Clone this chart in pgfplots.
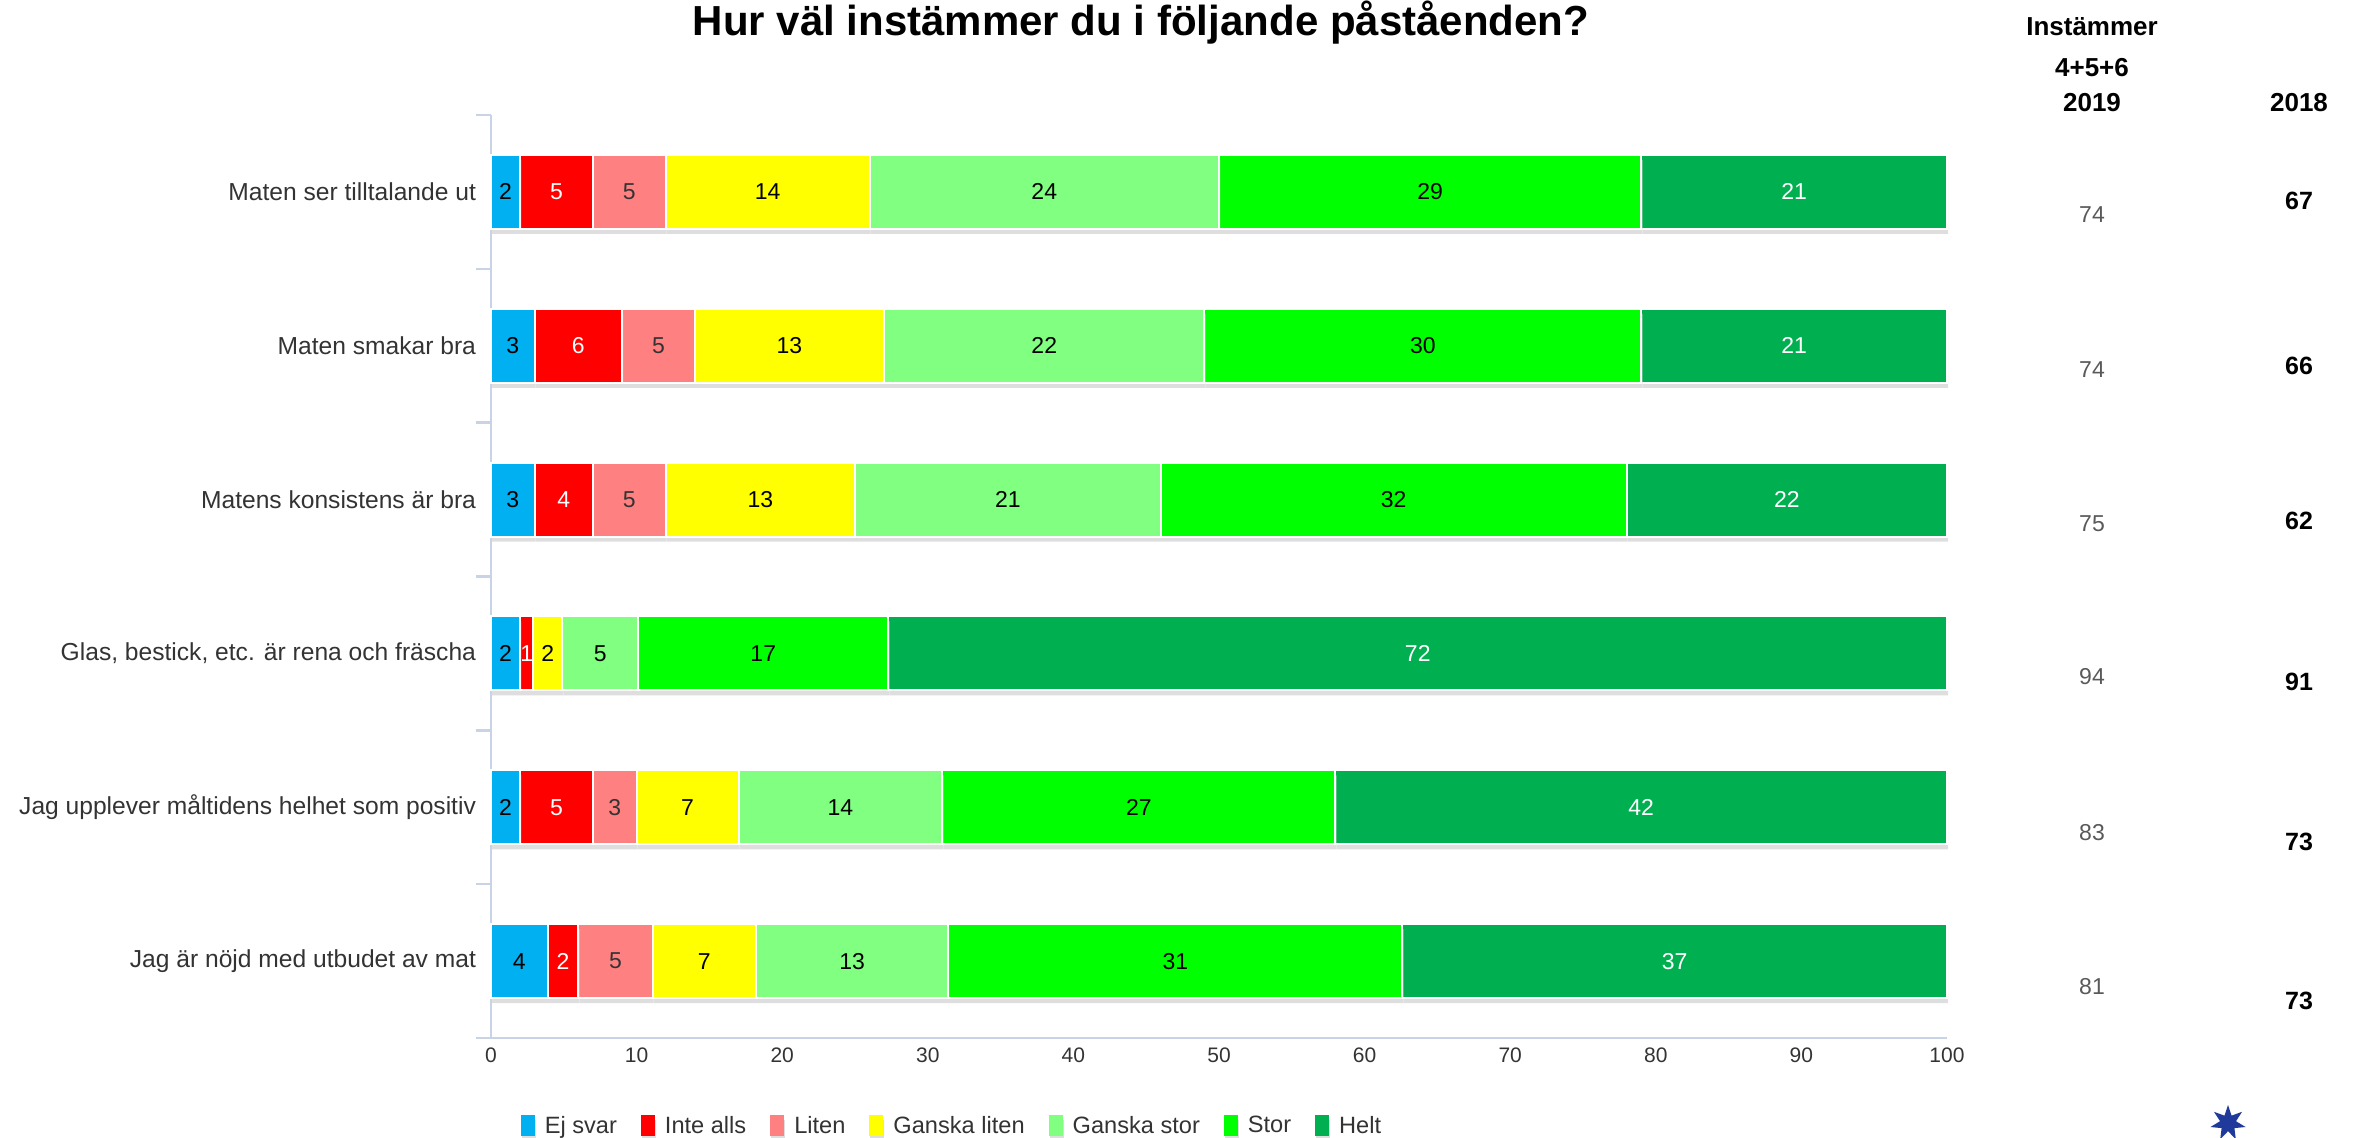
\documentclass[border=0pt]{standalone}
\usepackage{fontspec}
\setmainfont{Liberation Sans}
\usepackage{pgfplots}
\usepackage{pgfplotstable}
\pgfplotsset{compat=1.18}
\usetikzlibrary{shapes.geometric}
\definecolor{cEj}{HTML}{00B0F0}
\definecolor{cIn}{HTML}{FF0000}
\definecolor{cLi}{HTML}{FF8080}
\definecolor{cGl}{HTML}{FFFF00}
\definecolor{cGs}{HTML}{80FF80}
\definecolor{cSt}{HTML}{00FF00}
\definecolor{cHe}{HTML}{00B050}
\definecolor{axisc}{HTML}{C8D4E6}
\definecolor{textc}{HTML}{333333}
\definecolor{valc}{HTML}{595959}
\definecolor{starc}{HTML}{1F3A9A}
\tikzset{barshadow/.style={preaction={fill=black!13, draw=none, transform canvas={yshift=-2.5pt, xshift=0.5pt}}}}
\pgfplotstableread{
y ej  ejl in  inl li  lil gl  gll gs   gsl st   stl he   hel
6 2   2   5   5   5   5   14  14  24   24  29   29  21   21
5 3   3   6   6   5   5   13  13  22   22  30   30  21   21
4 3   3   4   4   5   5   13  13  21   21  32   32  22   22
3 2.0 2   0.9 1   0   {}  2.0 2   5.2  5   17.2 17  72.7 72
2 2   2   5   5   3   3   7   7   14   14  27   27  42   42
1 3.9 4   2.1 2   5.1 5   7.1 7   13.2 13  31.2 31  37.4 37
}\data
\begin{document}
\begin{tikzpicture}
\begin{axis}[
  at={(0,0)}, anchor=south west,
  scale only axis, width=728pt, height=461.5pt,
  xbar stacked, bar width=37pt,
  xmin=0, xmax=100, ymin=0.5, ymax=6.5,
  xtick={0,10,...,100},
  ytick={1,...,6},
  yticklabels={Jag är nöjd med utbudet av mat, Jag upplever måltidens helhet som positiv, {Glas, bestick, etc. är rena och fräscha}, Matens konsistens är bra, Maten smakar bra, Maten ser tilltalande ut},
  axis x line*=bottom, axis y line*=left,
  axis line style={draw=axisc, line width=1.2pt},
  major tick length=0pt,
  extra y ticks={0.5,1.5,2.5,3.5,4.5,5.5,6.5},
  extra y tick labels={},
  extra y tick style={major tick length=7.5pt, tick align=outside, tick style={draw=axisc, line width=1.2pt}},
  /pgf/number format/assume math mode=true,
  tick label style={font=\fontsize{10.5}{12}\selectfont, color=textc},
  xticklabel style={yshift=-1.2pt},
  yticklabel style={font=\fontsize{12.3}{14}\selectfont, color=textc, xshift=-4pt},
  every axis plot/.append style={draw=white, line width=1pt, barshadow},
  nodes near coords, point meta=explicit symbolic,
  every node near coord/.append style={font=\fontsize{11.5}{13}\selectfont, color=black},
  legend columns=7,
  legend style={at={(axis description cs:0.3173,-0.0953)}, anchor=center, draw=none, fill=none,
    font=\fontsize{11.8}{13}\selectfont\color{textc},
    /tikz/every odd column/.append style={column sep=3pt},
    /tikz/every even column/.append style={column sep=10pt}},
  legend image code/.code={\begin{scope}[barshadow/.style={}]\fill[#1, draw=none] (0pt,-5pt) rectangle (7pt,5.5pt);\end{scope}},
  clip=false,
]
\addplot[fill=cEj] table[x=ej, y=y, meta=ejl] {\data};
\addplot[fill=cIn, every node near coord/.append style={color=white}] table[x=in, y=y, meta=inl] {\data};
\addplot[fill=cLi, every node near coord/.append style={color=textc}] table[x=li, y=y, meta=lil] {\data};
\addplot[fill=cGl] table[x=gl, y=y, meta=gll] {\data};
\addplot[fill=cGs] table[x=gs, y=y, meta=gsl] {\data};
\addplot[fill=cSt] table[x=st, y=y, meta=stl] {\data};
\addplot[fill=cHe, every node near coord/.append style={color=white}] table[x=he, y=y, meta=hel] {\data};
\legend{Ej svar, Inte alls, Liten, Ganska liten, Ganska stor, Stor, Helt}
\end{axis}
\node[font=\bfseries\fontsize{21}{24}\selectfont, anchor=base] at (325pt,501pt) {Hur väl instämmer du i följande påståenden?};
\begin{scope}[every node/.style={font=\bfseries\fontsize{13}{15}\selectfont, anchor=center}]
\node at (800.5pt,505.5pt) {Instämmer};
\node at (800.5pt,485pt) {4+5+6};
\node at (800.5pt,467.5pt) {2019};
\node at (904pt,467.5pt) {2018};
\end{scope}
\begin{scope}[every node/.style={font=\fontsize{11.5}{13}\selectfont, color=valc, anchor=center}]
\node at (800.5pt,411.5pt) {74};
\node at (800.5pt,334pt) {74};
\node at (800.5pt,257pt) {75};
\node at (800.5pt,180.5pt) {94};
\node at (800.5pt,102.5pt) {83};
\node at (800.5pt,25.5pt) {81};
\end{scope}
\begin{scope}[every node/.style={font=\bfseries\fontsize{12.5}{14}\selectfont, anchor=center}]
\node at (904pt,418.5pt) {67};
\node at (904pt,336pt) {66};
\node at (904pt,258.5pt) {62};
\node at (904pt,178pt) {91};
\node at (904pt,98pt) {73};
\node at (904pt,18.5pt) {73};
\end{scope}
\node[star, star points=7, star point ratio=2.2, fill=starc, inner sep=0pt, minimum size=18pt] at (868.5pt,-42.5pt) {};
\pgfresetboundingbox
\path[use as bounding box] (-245.5pt,-49.5pt) rectangle (939.5pt,519pt);
\end{tikzpicture}
\end{document}
